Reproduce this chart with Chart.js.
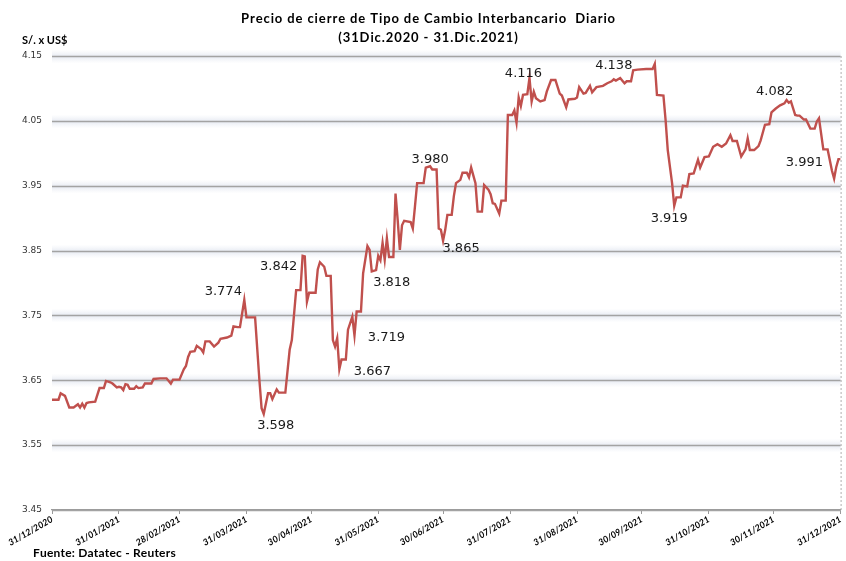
<!DOCTYPE html>
<html>
<head>
<meta charset="utf-8">
<script src="https://cdn.jsdelivr.net/npm/chart.js@4.4.1/dist/chart.umd.min.js"></script>
<style>
html, body { margin: 0; padding: 0; background: #fff; }
#wrap { width: 846px; height: 561px; position: relative; }
</style>
</head>
<body>
<div id="wrap"><canvas id="fxChart"></canvas></div>
<script>
// days counted from 31/12/2020
const days = [0,3,4,6,8,10,12,13,14,15,16,17,20,22,24,25,27,28,30,31,32,33,34,35,36,38,39,40,42,43,46,47,50,53,55,56,59,61,62,63,64,66,67,69,70,71,73,75,77,78,81,83,84,86,87,89,90,94,96,97,98,100,101,102,104,105,108,110,111,113,115,116,117,118,119,122,123,124,126,127,129,130,131,132,133,134,136,137,139,140,141,143,144,146,147,148,150,151,152,153,154,155,156,158,159,160,161,162,163,166,167,168,169,172,173,175,176,178,179,180,181,182,183,185,186,187,189,190,192,193,194,196,197,199,200,202,203,204,205,207,208,210,211,213,214,215,216,217,218,220,221,222,223,224,226,228,229,231,233,235,236,238,239,242,243,244,246,247,249,250,252,255,257,259,260,261,263,264,265,266,268,269,271,275,278,279,280,283,284,285,287,288,289,291,292,294,295,297,299,300,302,304,306,308,310,312,314,315,317,319,321,322,323,325,327,328,330,332,333,335,337,339,340,341,342,344,345,346,348,349,351,353,354,355,357,359,361,362,363,364,365];

const rates = [3.620,3.620,3.630,3.626,3.608,3.608,3.613,3.608,3.614,3.608,3.615,3.616,3.617,3.638,3.638,3.649,3.647,3.645,3.639,3.640,3.639,3.635,3.644,3.643,3.637,3.637,3.641,3.638,3.639,3.645,3.645,3.652,3.653,3.653,3.645,3.651,3.651,3.667,3.672,3.686,3.694,3.695,3.703,3.698,3.693,3.710,3.710,3.702,3.708,3.714,3.716,3.719,3.733,3.732,3.732,3.774,3.747,3.747,3.650,3.607,3.598,3.630,3.630,3.621,3.636,3.631,3.631,3.697,3.712,3.789,3.789,3.842,3.841,3.771,3.785,3.785,3.821,3.832,3.825,3.811,3.811,3.712,3.702,3.715,3.667,3.682,3.682,3.728,3.748,3.719,3.756,3.756,3.815,3.857,3.851,3.818,3.820,3.842,3.835,3.862,3.836,3.869,3.840,3.840,3.938,3.897,3.851,3.889,3.896,3.894,3.884,3.918,3.954,3.954,3.978,3.980,3.975,3.975,3.884,3.882,3.865,3.882,3.905,3.905,3.934,3.954,3.959,3.970,3.970,3.963,3.978,3.954,3.910,3.910,3.951,3.944,3.937,3.923,3.922,3.907,3.927,3.927,4.059,4.059,4.066,4.047,4.086,4.073,4.090,4.091,4.116,4.080,4.095,4.085,4.080,4.082,4.095,4.113,4.113,4.092,4.089,4.071,4.083,4.084,4.086,4.102,4.092,4.093,4.104,4.094,4.102,4.104,4.108,4.111,4.114,4.112,4.116,4.112,4.108,4.111,4.111,4.128,4.129,4.130,4.130,4.138,4.090,4.089,4.051,4.005,3.954,3.919,3.932,3.932,3.950,3.949,3.968,3.969,3.990,3.978,3.994,3.995,4.010,4.014,4.010,4.015,4.028,4.019,4.019,3.995,4.006,4.023,4.005,4.005,4.011,4.020,4.044,4.045,4.063,4.069,4.074,4.077,4.082,4.078,4.080,4.059,4.058,4.058,4.052,4.052,4.038,4.038,4.049,4.054,4.006,4.006,3.973,3.961,3.979,3.991,3.991];

const xTickDays = [0,31,59,90,120,151,181,212,243,273,304,334,365];
const xTickLabels = ["31/12/2020","31/01/2021","28/02/2021","31/03/2021","30/04/2021","31/05/2021","30/06/2021","31/07/2021","31/08/2021","30/09/2021","31/10/2021","30/11/2021","31/12/2021"];
const yTicks = [3.45,3.55,3.65,3.75,3.85,3.95,4.05,4.15];

// points that carry a value label
const labelDays = [89,98,116,148,140,133,175,181,221,279,288,340,364];
// where each label's centre sits relative to its point (px)
const labelOffsets = [[-21,-8],[12,12],[-24,11],[20,11],[32,2],[33,2],[0,-7],[18,8],[-6,-4],[-41,2],[-5,13],[-12,-8],[-34,4]];

const points = days.map((d, i) => ({ x: d, y: rates[i] }));

// draw text with extra space between letters
function spacedText(ctx, str, x, y, gap, align) {
  const widths = [...str].map(c => ctx.measureText(c).width);
  const total = widths.reduce((s, w) => s + w, 0) + gap * (str.length - 1);
  let cx = align === "center" ? x - total / 2 : x;
  ctx.textAlign = "left";
  [...str].forEach((c, i) => {
    ctx.fillText(c, cx, y);
    cx += widths[i] + gap;
  });
}

const gridGlow = {
  id: "gridGlow",
  beforeDatasetsDraw(chart) {
    const { ctx, chartArea: a, scales } = chart;
    ctx.save();
    yTicks.forEach(v => {
      const y = Math.round(scales.y.getPixelForValue(v)) + 0.5;
      if (v !== yTicks[0]) {
        const g = ctx.createLinearGradient(0, y - 7, 0, y + 7);
        g.addColorStop(0, "rgba(225,230,240,0)");
        g.addColorStop(0.5, "rgba(210,217,232,0.55)");
        g.addColorStop(1, "rgba(225,230,240,0)");
        ctx.fillStyle = g;
        ctx.fillRect(a.left, y - 7, a.right - a.left, 14);
      }
      ctx.strokeStyle = "#a3a3a3";
      ctx.lineWidth = 1.3;
      ctx.beginPath();
      ctx.moveTo(a.left, y);
      ctx.lineTo(a.right, y);
      ctx.stroke();
    });
    // dotted right edge
    ctx.strokeStyle = "#b0b0b0";
    ctx.lineWidth = 1;
    ctx.setLineDash([2, 2]);
    ctx.beginPath();
    ctx.moveTo(a.right + 0.5, a.top);
    ctx.lineTo(a.right + 0.5, a.bottom);
    ctx.stroke();
    ctx.restore();
  }
};

const valueLabels = {
  id: "valueLabels",
  afterDatasetsDraw(chart) {
    const { ctx, scales } = chart;
    ctx.save();
    ctx.font = "13px 'DejaVu Sans'";
    ctx.fillStyle = "#1a1a1a";
    ctx.textAlign = "center";
    ctx.textBaseline = "middle";
    labelDays.forEach((d, i) => {
      const v = rates[days.indexOf(d)];
      const x = scales.x.getPixelForValue(d) + labelOffsets[i][0];
      const y = scales.y.getPixelForValue(v) + labelOffsets[i][1];
      ctx.fillText(v.toFixed(3), x, y);
    });
    ctx.restore();
  }
};

const texts = {
  id: "texts",
  afterDraw(chart) {
    const ctx = chart.ctx;
    ctx.save();
    ctx.fillStyle = "#000";
    ctx.textBaseline = "middle";
    ctx.font = "bold 13px Lato";
    spacedText(ctx, "Precio de cierre de Tipo de Cambio Interbancario  Diario", 428, 19, 0.9, "center");
    spacedText(ctx, "(31Dic.2020 - 31.Dic.2021)", 428, 38, 0.9, "center");
    ctx.font = "bold 11px Lato";
    spacedText(ctx, "S/. x US$", 22, 40, 0, "left");
    ctx.font = "bold 12px Lato";
    spacedText(ctx, "Fuente: Datatec - Reuters", 33, 553, 0.2, "left");
    ctx.restore();
  }
};

new Chart(document.getElementById("fxChart"), {
  type: "line",
  data: {
    datasets: [{
      label: "Tipo de cambio",
      data: points,
      borderColor: "#C0504D",
      borderWidth: 2.4,
      pointRadius: 0,
      tension: 0,
      fill: false
    }]
  },
  options: {
    responsive: true,
    maintainAspectRatio: false,
    animation: false,
    layout: { padding: { top: 56, right: 3, left: 0, bottom: 0 } },
    plugins: { legend: { display: false }, tooltip: { enabled: false } },
    scales: {
      x: {
        type: "linear",
        min: 0,
        max: 365,
        afterFit(s) { s.height = 51; },
        afterBuildTicks(s) { s.ticks = xTickDays.map(v => ({ value: v })); },
        grid: { drawOnChartArea: false, drawTicks: true, tickLength: 4, color: "#9a9a9a" },
        border: { display: true, color: "#9a9a9a", width: 1.3 },
        ticks: {
          autoSkip: false,
          minRotation: 30,
          maxRotation: 30,
          padding: 0,
          color: "#000",
          font: { family: "Lato", size: 9, weight: "bold", style: "italic" },
          callback(v) { return xTickLabels[xTickDays.indexOf(v)]; }
        }
      },
      y: {
        min: 3.45,
        max: 4.15,
        afterFit(s) { s.width = 52; },
        afterBuildTicks(s) { s.ticks = yTicks.map(v => ({ value: v })); },
        grid: { display: false, drawTicks: false },
        border: { display: false },
        ticks: {
          padding: 10,
          color: "#333",
          font: { family: "DejaVu Sans", size: 9 },
          callback(v) { return v.toFixed(2); }
        }
      }
    }
  },
  plugins: [gridGlow, valueLabels, texts]
});
</script>
</body>
</html>
